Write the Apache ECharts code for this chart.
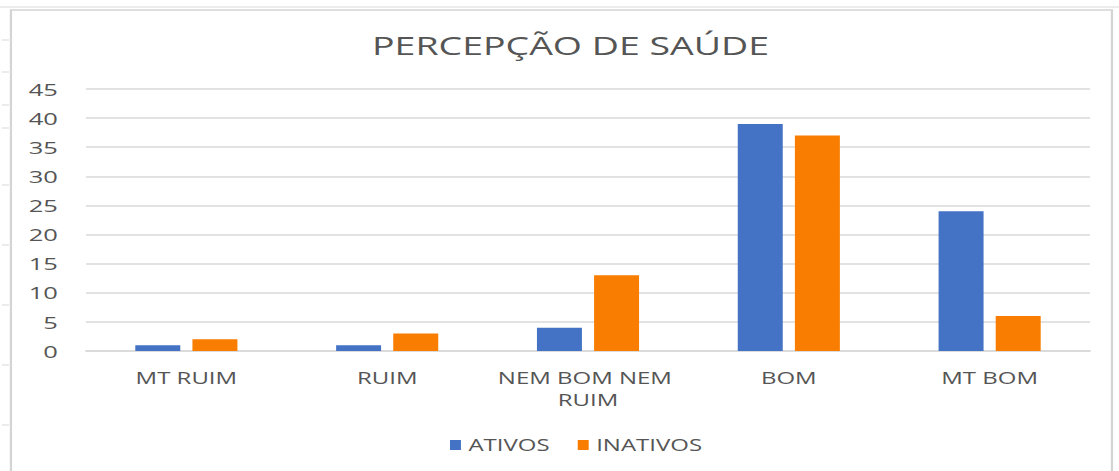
<!DOCTYPE html>
<html><head><meta charset="utf-8">
<script src="https://cdn.jsdelivr.net/npm/echarts@6/dist/echarts.min.js"></script>
<style>
html,body{margin:0;padding:0;background:#fff;overflow:hidden;width:1119px;height:471px}
#c{width:746px;height:471px;transform:scaleX(1.5);transform-origin:0 0}
</style>
</head><body><div id="c"></div>
<script>
const categories = ["MT RUIM", "RUIM", "NEM BOM NEM RUIM", "BOM", "MT BOM"];
const ativos = [1, 1, 4, 39, 24];
const inativos = [2, 3, 13, 37, 6];
const yTicks = [0, 5, 10, 15, 20, 25, 30, 35, 40, 45];

// The reference is a horizontally stretched screenshot: the chart is laid out
// on a 746px-wide canvas and stretched by 1.5 to 1119px.
const chart = echarts.init(document.getElementById('c'), null, {renderer: 'svg', width: 746, height: 471});
const font = "'Open Sans', 'Liberation Sans', sans-serif";
chart.setOption({
  animation: false,
  backgroundColor: '#fff',
  graphic: [
    {type: 'line', shape: {x1: 0, y1: 7, x2: 746, y2: 7}, style: {stroke: '#d9d9d9', lineWidth: 1}, silent: true},
    {type: 'rect', shape: {x: 7.3, y: 10, width: 734, height: 470}, style: {fill: 'none', stroke: '#d4d4d4', lineWidth: 1.5}, silent: true},
    {type: 'group', silent: true, children: [40, 72, 105, 128, 185, 245, 305, 365, 425].map(y => ({
      type: 'line', shape: {x1: 1.3, y1: y, x2: 6, y2: y}, style: {stroke: '#d9d9d9', lineWidth: 1}
    }))}
  ],
  title: {
    text: 'PERCEPÇÃO DE SAÚDE',
    left: 243, top: 28,
    textStyle: {fontFamily: font, fontSize: 25, fontWeight: 'normal', color: '#555555'}
  },
  legend: {
    data: ['ATIVOS', 'INATIVOS'],
    top: 432, left: 295,
    itemWidth: 7.3, itemHeight: 10, itemGap: 18.7,
    icon: 'rect',
    textStyle: {fontFamily: font, fontSize: 16, color: '#555555', padding: [0, 0, 0, 0]}
  },
  grid: {left: 57.3, right: 19.3, top: 89, bottom: 120},
  xAxis: {
    type: 'category',
    data: categories,
    axisLine: {lineStyle: {color: '#d9d9d9', width: 1.5}},
    axisTick: {show: false},
    axisLabel: {fontFamily: font, fontSize: 16, color: '#555555', margin: 16, width: 125, overflow: 'break', lineHeight: 22, interval: 0}
  },
  yAxis: {
    type: 'value',
    min: 0, max: 45, interval: 5,
    axisLine: {show: false},
    axisTick: {show: false},
    splitLine: {lineStyle: {color: '#d9d9d9', width: 1.5}},
    axisLabel: {fontFamily: font, fontSize: 17, color: '#555555', margin: 18.7,
      formatter: v => yTicks.includes(v) ? String(v) : ''}
  },
  series: [
    {name: 'ATIVOS', type: 'bar', data: ativos, barWidth: '22.4%', barGap: '27%', itemStyle: {color: '#4472C4'}},
    {name: 'INATIVOS', type: 'bar', data: inativos, barWidth: '22.4%', barGap: '27%', itemStyle: {color: '#F87D00'}}
  ]
});
</script></body></html>
